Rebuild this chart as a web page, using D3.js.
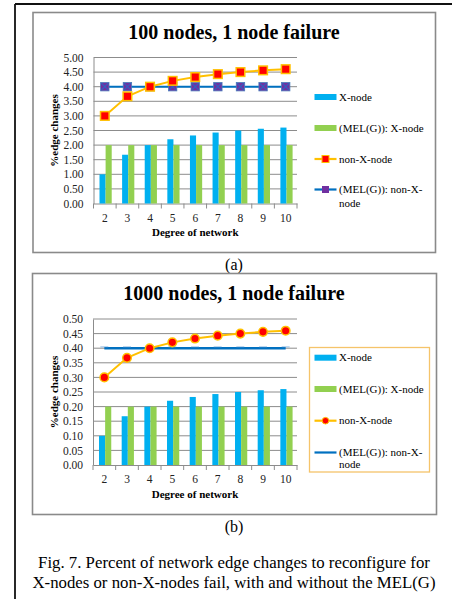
<!DOCTYPE html>
<html>
<head>
<meta charset="utf-8">
<script src="https://cdn.jsdelivr.net/npm/d3@7"></script>
<style>
  html, body { margin: 0; padding: 0; background: #fff; }
  svg { display: block; }
</style>
</head>
<body>
<svg id="chart" width="452" height="599"></svg>
<script>
// ---------------- data ----------------
const degrees = ["2", "3", "4", "5", "6", "7", "8", "9", "10"];

const seriesNames = ["X-node", "(MEL(G)): X-node", "non-X-node", "(MEL(G)): non-X-node"];

// Panel (a): 100 nodes
const xNode100       = [1.00, 1.67, 2.00, 2.20, 2.33, 2.43, 2.50, 2.56, 2.60];
const melXNode100    = [2.00, 2.00, 2.00, 2.00, 2.00, 2.00, 2.00, 2.00, 2.00];
const nonXNode100    = [3.00, 3.67, 4.00, 4.20, 4.33, 4.43, 4.50, 4.56, 4.60];
const melNonXNode100 = [4.00, 4.00, 4.00, 4.00, 4.00, 4.00, 4.00, 4.00, 4.00];
const yTicks100      = [0, 0.5, 1.0, 1.5, 2.0, 2.5, 3.0, 3.5, 4.0, 4.5, 5.0];

// Panel (b): 1000 nodes
const xNode1000       = [0.100, 0.167, 0.200, 0.220, 0.233, 0.243, 0.250, 0.256, 0.260];
const melXNode1000    = [0.20, 0.20, 0.20, 0.20, 0.20, 0.20, 0.20, 0.20, 0.20];
const nonXNode1000    = [0.300, 0.367, 0.400, 0.420, 0.433, 0.443, 0.450, 0.456, 0.460];
const melNonXNode1000 = [0.40, 0.40, 0.40, 0.40, 0.40, 0.40, 0.40, 0.40, 0.40];
const yTicks1000      = [0, 0.05, 0.10, 0.15, 0.20, 0.25, 0.30, 0.35, 0.40, 0.45, 0.50];

const titles = ["100 nodes, 1 node failure", "1000 nodes, 1 node failure"];
const panelLabels = ["(a)", "(b)"];
const xTitle = "Degree of network";
const yTitle = "%edge changes";
const captionLines = [
  "Fig. 7. Percent of network edge changes to reconfigure for",
  "X-nodes or non-X-nodes fail, with and without the MEL(G)"
];

// ---------------- style ----------------
const FONT = "'Liberation Serif', 'Times New Roman', Times, Tinos, 'DejaVu Serif', serif";
const C = {
  xnode: "#00B0F0",
  mel: "#92D050",
  orange: "#FFC000",
  red: "#FF0000",
  blue: "#0070C0",
  purple: "#7030A0",
  grid: "#8c8c8c",
  box: "#8a8a8a"
};

const svg = d3.select("#chart").attr("font-family", FONT);

// outer frame (cropped: top and left visible)
svg.append("line").attr("x1", 15).attr("x2", 452).attr("y1", 4).attr("y2", 4)
  .attr("stroke", "#111").attr("stroke-width", 1.8);
svg.append("line").attr("x1", 15).attr("x2", 15).attr("y1", 4).attr("y2", 599)
  .attr("stroke", "#111").attr("stroke-width", 1.8);

function drawPanel(cfg) {
  const g = svg.append("g");
  g.append("rect").attr("x", cfg.box[0]).attr("y", cfg.box[1])
    .attr("width", cfg.box[2]).attr("height", cfg.box[3])
    .attr("fill", "#fff").attr("stroke", C.box).attr("stroke-width", 1.6);

  g.append("text").attr("x", 234).attr("y", cfg.titleY)
    .attr("text-anchor", "middle").attr("font-size", 20).attr("font-weight", "bold")
    .attr("font-family", FONT).text(cfg.title);

  const x0 = d3.scaleBand().domain(degrees).range([cfg.left, cfg.right]);
  const y = d3.scaleLinear().domain([0, cfg.ymax]).range([cfg.bottom, cfg.top]);

  g.append("g").selectAll("line").data(cfg.ticks.slice(1)).join("line")
    .attr("x1", cfg.left).attr("x2", cfg.right)
    .attr("y1", d => y(d)).attr("y2", d => y(d))
    .attr("stroke", C.grid).attr("stroke-width", 1);

  const yAxis = d3.axisLeft(y).tickValues(cfg.ticks).tickFormat(d3.format(".2f"))
    .tickSize(0).tickPadding(10);
  const ya = g.append("g").attr("transform", `translate(${cfg.left},0)`).call(yAxis)
    .attr("font-family", FONT).attr("font-size", 11.5);
  ya.select(".domain").attr("stroke", C.grid).attr("stroke-width", 1);
  ya.selectAll("text").attr("fill", "#222");

  const xa = g.append("g").attr("transform", `translate(0,${cfg.bottom})`)
    .call(d3.axisBottom(x0).tickSize(0).tickPadding(10))
    .attr("font-family", FONT).attr("font-size", 11.5);
  xa.select(".domain").attr("stroke", C.grid).attr("stroke-width", 1);
  xa.selectAll("text").attr("fill", "#222");
  const bounds = degrees.map(d => x0(d)).concat([cfg.right]);
  g.append("g").selectAll("line").data(bounds).join("line")
    .attr("x1", d => d).attr("x2", d => d)
    .attr("y1", cfg.bottom).attr("y2", cfg.bottom + 5)
    .attr("stroke", C.grid).attr("stroke-width", 1);

  g.append("text").attr("x", (cfg.left + cfg.right) / 2).attr("y", cfg.xTitleY)
    .attr("text-anchor", "middle").attr("font-size", 11).attr("font-weight", "bold")
    .attr("font-family", FONT).text(xTitle);
  g.append("text")
    .attr("transform", `translate(${cfg.yTitleX},${(cfg.top + cfg.bottom) / 2}) rotate(-90)`)
    .attr("text-anchor", "middle").attr("font-size", 11).attr("font-weight", "bold")
    .attr("font-family", FONT).text(yTitle);

  const bw = x0.bandwidth() * 0.27;
  const cx = d => x0(d) + x0.bandwidth() / 2 + 0.8;
  g.append("g").selectAll("rect").data(degrees).join("rect")
    .attr("x", (d) => cx(d) - bw).attr("width", bw)
    .attr("y", (d, i) => y(cfg.xNode[i])).attr("height", (d, i) => cfg.bottom - y(cfg.xNode[i]))
    .attr("fill", C.xnode);
  g.append("g").selectAll("rect").data(degrees).join("rect")
    .attr("x", (d) => cx(d)).attr("width", bw)
    .attr("y", (d, i) => y(cfg.melX[i])).attr("height", (d, i) => cfg.bottom - y(cfg.melX[i]))
    .attr("fill", C.mel);

  const px = d => x0(d) + x0.bandwidth() / 2;
  const line = d3.line().x((d, i) => px(degrees[i])).y(d => y(d));

  g.append("path").datum(cfg.melNonX).attr("d", line)
    .attr("fill", "none").attr("stroke", C.blue).attr("stroke-width", cfg.melLineW);

  if (cfg.melMarkers) {
    const mg = g.append("g").selectAll("g").data(cfg.melNonX).join("g")
      .attr("transform", (d, i) => `translate(${px(degrees[i])},${y(d)})`);
    mg.append("rect").attr("x", -4.2).attr("y", -4.2).attr("width", 8.4).attr("height", 8.4)
      .attr("fill", C.purple).attr("stroke", "#4a7ebb").attr("stroke-width", 0.8);
    mg.append("path").attr("d", "M-3.5,-3.5L3.5,3.5M-3.5,3.5L3.5,-3.5")
      .attr("stroke", "#3060c0").attr("stroke-width", 1.2);
  } else {
    g.append("g").selectAll("line").data(cfg.melNonX).join("line")
      .attr("x1", (d, i) => px(degrees[i]) - 4).attr("x2", (d, i) => px(degrees[i]) + 4)
      .attr("y1", d => y(d) - 1.3).attr("y2", d => y(d) - 1.3)
      .attr("stroke", "#5b9bd5").attr("stroke-width", 0.8).attr("opacity", 0.8);
  }

  g.append("path").datum(cfg.nonX).attr("d", line)
    .attr("fill", "none").attr("stroke", C.orange).attr("stroke-width", 2);
  const ng = g.append("g").selectAll("g").data(cfg.nonX).join("g")
    .attr("transform", (d, i) => `translate(${px(degrees[i])},${y(d)})`);
  if (cfg.squareMarkers) {
    ng.append("rect").attr("x", -4.3).attr("y", -4.3).attr("width", 8.6).attr("height", 8.6)
      .attr("fill", C.red).attr("stroke", C.orange).attr("stroke-width", 1.5);
  } else {
    ng.append("circle").attr("r", 4.3)
      .attr("fill", C.red).attr("stroke", C.orange).attr("stroke-width", 1.5);
  }

  const L = g.append("g");
  if (cfg.legendBox) {
    L.append("rect").attr("x", cfg.legendBox[0]).attr("y", cfg.legendBox[1])
      .attr("width", cfg.legendBox[2]).attr("height", cfg.legendBox[3])
      .attr("fill", "none").attr("stroke", "#F5C46A").attr("stroke-width", 1.3);
  }
  const sx0 = 314.5, sx1 = 336.5, tx = 339;
  const ly = cfg.legendY;
  L.append("rect").attr("x", sx0).attr("y", ly[0] - 3).attr("width", sx1 - sx0).attr("height", 6).attr("fill", C.xnode);
  L.append("rect").attr("x", sx0).attr("y", ly[1] - 3).attr("width", sx1 - sx0).attr("height", 6).attr("fill", C.mel);
  L.append("line").attr("x1", sx0).attr("x2", sx1).attr("y1", ly[2]).attr("y2", ly[2])
    .attr("stroke", C.orange).attr("stroke-width", 2.2);
  const mx = (sx0 + sx1) / 2;
  if (cfg.squareMarkers) {
    L.append("rect").attr("x", mx - 3.5).attr("y", ly[2] - 3.5).attr("width", 7).attr("height", 7)
      .attr("fill", C.red).attr("stroke", C.orange).attr("stroke-width", 1);
  } else {
    L.append("circle").attr("cx", mx).attr("cy", ly[2]).attr("r", 3.3)
      .attr("fill", C.red).attr("stroke", C.orange).attr("stroke-width", 1);
  }
  L.append("line").attr("x1", sx0).attr("x2", sx1).attr("y1", ly[3]).attr("y2", ly[3])
    .attr("stroke", C.blue).attr("stroke-width", 2.2);
  if (cfg.melMarkers) {
    L.append("rect").attr("x", mx - 3.5).attr("y", ly[3] - 3.5).attr("width", 7).attr("height", 7)
      .attr("fill", C.purple);
  }
  const labels = [seriesNames[0], seriesNames[1], seriesNames[2], "(MEL(G)): non-X-"];
  labels.forEach((t, i) => {
    L.append("text").attr("x", tx).attr("y", ly[i]).attr("dy", "0.33em")
      .attr("font-size", 11).attr("font-family", FONT).text(t);
  });
  L.append("text").attr("x", tx).attr("y", ly[3] + cfg.wrapGap).attr("dy", "0.33em")
    .attr("font-size", 11).attr("font-family", FONT).text("node");

  svg.append("text").attr("x", 234).attr("y", cfg.labelY).attr("text-anchor", "middle")
    .attr("font-size", 16).attr("font-family", FONT).text(cfg.label);
}

drawPanel({
  box: [33, 12.5, 402.5, 240],
  title: titles[0], titleY: 39,
  left: 93.5, right: 297, top: 57.5, bottom: 203.5,
  ymax: 5, ticks: yTicks100,
  xNode: xNode100, melX: melXNode100, nonX: nonXNode100, melNonX: melNonXNode100,
  xTitleY: 236, yTitleX: 58,
  melLineW: 2, melMarkers: true, squareMarkers: true,
  legendY: [97, 128, 159, 189.5], wrapGap: 13.4, legendBox: null,
  label: panelLabels[0], labelY: 270
});

drawPanel({
  box: [32.5, 273.5, 404, 241],
  title: titles[1], titleY: 299.5,
  left: 93, right: 297, top: 319, bottom: 465,
  ymax: 0.5, ticks: yTicks1000,
  xNode: xNode1000, melX: melXNode1000, nonX: nonXNode1000, melNonX: melNonXNode1000,
  xTitleY: 498, yTitleX: 58,
  melLineW: 2.6, melMarkers: false, squareMarkers: false,
  legendY: [357.7, 389, 420.7, 452.5], wrapGap: 12, legendBox: [309.5, 347.5, 120, 124.5],
  label: panelLabels[1], labelY: 531.5
});

captionLines.forEach((t, i) => {
  svg.append("text").attr("x", 234).attr("y", 568.3 + i * 20).attr("text-anchor", "middle")
    .attr("font-size", 16.8).attr("font-family", FONT).text(t);
});
</script>
</body>
</html>
